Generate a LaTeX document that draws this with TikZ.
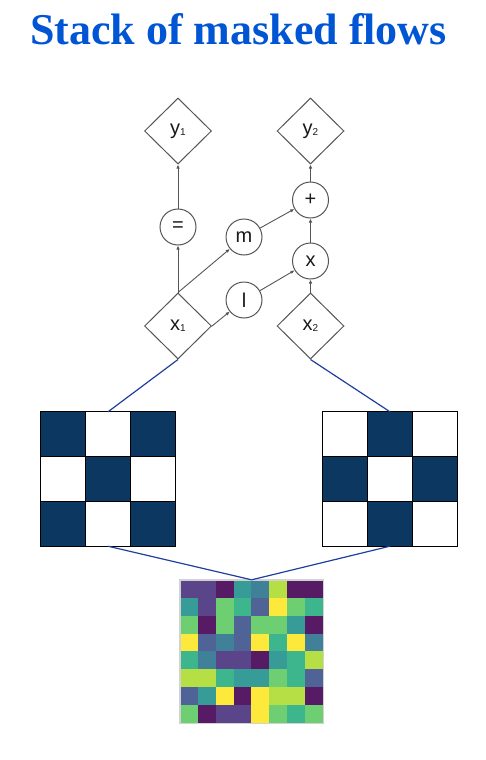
\documentclass[tikz,border=0pt]{standalone}
\usepackage{fontspec}
\setmainfont{Liberation Serif}
\setsansfont{Liberation Sans}
\usetikzlibrary{calc,shapes.geometric,arrows.meta}

\definecolor{titleblue}{HTML}{0055D4}
\definecolor{maskblue}{HTML}{0B3761}
\definecolor{linkblue}{HTML}{1F3F9E}
\definecolor{edgegray}{HTML}{555555}
% viridis steps
\definecolor{v0}{HTML}{440154}
\definecolor{v1}{HTML}{472F7D}
\definecolor{v2}{HTML}{3B528B}
\definecolor{v3}{HTML}{2C728E}
\definecolor{v4}{HTML}{21918C}
\definecolor{v5}{HTML}{28AE80}
\definecolor{v6}{HTML}{5EC962}
\definecolor{v7}{HTML}{ADDC30}
\definecolor{v8}{HTML}{FDE725}

\newcommand{\lowidx}[1]{{\fontsize{10}{10}\selectfont\raisebox{-1pt}{#1}}}

\begin{document}
\begin{tikzpicture}[x=1pt,y=-1pt,
    var/.style={diamond,draw=edgegray,line width=1pt,minimum width=67pt,minimum height=66pt,
        inner sep=0pt,text=black!90,font=\sffamily\fontsize{20}{20}\selectfont},
    op/.style={circle,draw=edgegray,line width=1pt,minimum size=36pt,inner sep=0pt,
        text=black!90,font=\sffamily\fontsize{20}{20}\selectfont},
    flow/.style={-{Latex[length=4pt,width=3.5pt]},draw=edgegray,line width=0.9pt},
    link/.style={draw=linkblue,line width=1.2pt},
    grid/.style={draw=black,line width=1.2pt}]
    \useasboundingbox (0,0) rectangle (486,760);
    % title
    \node (title) [anchor=base,text=titleblue,font=\bfseries\fontsize{44}{44}\selectfont]
        at (238.5,45) {Stack of masked flows};
    % inputs and outputs
    \node (y1) [var] at (178,131) {y\lowidx{1}};
    \node (y2) [var] at (310.5,131) {y\lowidx{2}};
    \node (x1) [var] at (178,326) {x\lowidx{1}};
    \node (x2) [var] at (310.5,326) {x\lowidx{2}};
    % operations
    \node (eq) [op] at (178,227) {=};
    \node (m) [op] at (244,237) {m};
    \node (l) [op] at (244,300) {l};
    \node (plus) [op] at (310.5,200) {+};
    \node (times) [op] at (310.5,261) {x};
    % arrows
    \draw[flow] (x1.north) -- (eq.south);
    \draw[flow] (eq.north) -- (y1.south);
    \draw[flow] (x1.north) -- (m);
    \draw[flow] (x1.east) -- (l);
    \draw[flow] (l) -- (times);
    \draw[flow] (m) -- (plus);
    \draw[flow] (x2.north) -- (times.south);
    \draw[flow] (times.north) -- (plus.south);
    \draw[flow] (plus.north) -- (y2.south);
    % masks
    \def\cell{44.67}
    \node (maskA) [minimum size=134pt,inner sep=0pt] at (108,479) {};
    \node (maskB) [minimum size=134pt,inner sep=0pt] at (390,479) {};
    \foreach \i/\j in {0/0,2/0,1/1,0/2,2/2}
        \fill[maskblue] ($(maskA.north west)+(\i*\cell,\j*\cell)$) rectangle +(\cell,\cell);
    \foreach \i/\j in {1/0,0/1,2/1,1/2}
        \fill[maskblue] ($(maskB.north west)+(\i*\cell,\j*\cell)$) rectangle +(\cell,\cell);
    \foreach \k in {1,2} {
        \draw[grid] ($(maskA.north west)+(\k*\cell,0)$) -- +(0,134);
        \draw[grid] ($(maskA.north west)+(0,\k*\cell)$) -- +(134,0);
        \draw[grid] ($(maskB.north west)+(\k*\cell,0)$) -- +(0,134);
        \draw[grid] ($(maskB.north west)+(0,\k*\cell)$) -- +(134,0);
    }
    \draw[grid] (maskA.north west) rectangle (maskA.south east);
    \draw[grid] (maskB.north west) rectangle (maskB.south east);
    % noise image
    \def\pix{17.9}
    \node (noise) [minimum size=143.2pt,inner sep=0pt] at (251.6,651.6) {};
    \foreach \row [count=\r from 0] in {{1,1,0,4,3,7,0,0},{4,1,6,5,2,8,6,5},{6,0,6,2,6,6,4,0},
            {8,2,3,2,8,5,8,3},{5,3,1,1,0,4,5,7},{7,7,5,4,4,6,5,2},{2,4,8,0,8,7,7,0},{6,0,1,1,8,6,5,6}}
        \foreach \c [count=\k from 0] in \row
            \fill[v\c!90!white] ($(noise.north west)+(\k*\pix,\r*\pix)$) rectangle +(\pix,\pix);
    \draw[gray!35,line width=1.5pt] (noise.north west) rectangle (noise.south east);
    % links
    \draw[link] (x1.south) -- (maskA.north);
    \draw[link] (x2.south) -- (maskB.north);
    \draw[link] (maskA.south) -- (noise.north);
    \draw[link] (maskB.south) -- (noise.north);
\end{tikzpicture}
\end{document}
